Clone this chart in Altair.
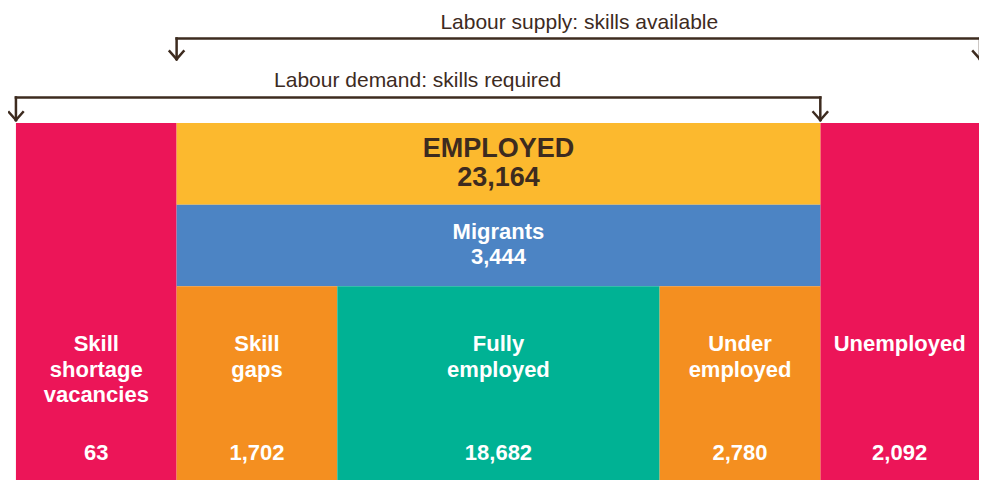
import altair as alt
import pandas as pd

# ---- data ----
categories = ["Skill shortage vacancies", "Skill gaps", "Fully employed", "Under employed", "Unemployed"]
label_lines = [["Skill", "shortage", "vacancies"], ["Skill", "gaps"], ["Fully", "employed"],
               ["Under", "employed"], ["Unemployed"]]
values = [63, 1702, 18682, 2780, 2092]
employed_label = "EMPLOYED"
employed_total = 23164
migrants_label = "Migrants"
migrants_total = 3444
supply_title = "Labour supply: skills available"
demand_title = "Labour demand: skills required"

# ---- layout (diagram units = reference pixels) ----
col_edges = [16, 178, 340, 665, 827, 1000]
row_edges = [125, 208, 291, 488]
RED, YELLOW, BLUE, ORANGE, TEAL = "#EC1558", "#FCB92E", "#4C84C4", "#F48F20", "#00B294"
BROWN = "#3D2B1F"
FONT = "Liberation Sans"

rects = []
rects.append(dict(x=col_edges[0], x2=col_edges[1], y=row_edges[0], y2=row_edges[3], c=RED))
rects.append(dict(x=col_edges[4], x2=col_edges[5], y=row_edges[0], y2=row_edges[3], c=RED))
rects.append(dict(x=col_edges[1], x2=col_edges[4], y=row_edges[0], y2=row_edges[1], c=YELLOW))
rects.append(dict(x=col_edges[1], x2=col_edges[4], y=row_edges[1], y2=row_edges[2], c=BLUE))
inner_colors = [ORANGE, TEAL, ORANGE]
for i, c in enumerate(inner_colors):
    rects.append(dict(x=col_edges[1 + i], x2=col_edges[2 + i], y=row_edges[2], y2=row_edges[3], c=c))
rect_df = pd.DataFrame(rects)

centers = [97, 259, 502.5, 746, 907]
line_base = 357
line_step = 26
value_base = 468
lab_rows = []
for i, lines in enumerate(label_lines):
    for j, ln in enumerate(lines):
        lab_rows.append(dict(x=centers[i], y=line_base + j * line_step, t=ln))
lab_df = pd.DataFrame(lab_rows)
val_df = pd.DataFrame(dict(x=centers, y=[value_base] * len(values), v=values, cat=categories))

band_cx = (col_edges[1] + col_edges[4]) / 2
emp_df = pd.DataFrame([dict(x=band_cx, y=160, t=employed_label), dict(x=band_cx, y=189, t=f"{employed_total:,}")])
mig_df = pd.DataFrame([dict(x=band_cx, y=243, t=migrants_label), dict(x=band_cx, y=268, t=f"{migrants_total:,}")])

title_df = pd.DataFrame([dict(x=584, y=29, t=supply_title), dict(x=421, y=88, t=demand_title)])

def bracket(xl, xr, ytop, ybot):
    segs = [
        (xl, ytop, xr, ytop),
        (xl, ytop, xl, ybot), (xr, ytop, xr, ybot),
        (xl - 7, ybot - 8, xl, ybot), (xl + 7, ybot - 8, xl, ybot),
        (xr - 7, ybot - 8, xr, ybot), (xr + 7, ybot - 8, xr, ybot),
    ]
    return [dict(x=a, y=b, x2=c, y2=d) for a, b, c, d in segs]

seg_df = pd.DataFrame(bracket(178, 988, 39, 60) + bracket(16, 827, 99, 122))

xs = alt.Scale(domain=[8, 987])
ys = alt.Scale(domain=[8, 488], reverse=True)

def X(f="x"):
    return alt.X(f"{f}:Q", scale=xs, axis=None)

def Y(f="y"):
    return alt.Y(f"{f}:Q", scale=ys, axis=None)

rect_layer = alt.Chart(rect_df).mark_rect(clip=True).encode(
    x=X(), x2="x2:Q", y=Y(), y2="y2:Q", color=alt.Color("c:N", scale=None)
)
seg_layer = alt.Chart(seg_df).mark_rule(stroke=BROWN, strokeWidth=2.5, strokeCap="square", clip=True).encode(
    x=X(), x2="x2:Q", y=Y(), y2="y2:Q"
)
lab_layer = alt.Chart(lab_df).mark_text(font=FONT, fontWeight="bold", fontSize=22, color="white",
                                        align="center", baseline="alphabetic").encode(
    x=X(), y=Y(), text="t:N"
)
val_layer = alt.Chart(val_df).mark_text(font=FONT, fontWeight="bold", fontSize=22, color="white",
                                        align="center", baseline="alphabetic").encode(
    x=X(), y=Y(), text=alt.Text("v:Q", format=",")
)
emp_layer = alt.Chart(emp_df).mark_text(font=FONT, fontWeight="bold", fontSize=27, color=BROWN,
                                        align="center", baseline="alphabetic").encode(
    x=X(), y=Y(), text="t:N"
)
mig_layer = alt.Chart(mig_df).mark_text(font=FONT, fontWeight="bold", fontSize=22, color="white",
                                        align="center", baseline="alphabetic").encode(
    x=X(), y=Y(), text="t:N"
)
title_layer = alt.Chart(title_df).mark_text(font=FONT, fontSize=21, color=BROWN,
                                            align="center", baseline="alphabetic").encode(
    x=X(), y=Y(), text="t:N"
)

chart = alt.layer(rect_layer, seg_layer, lab_layer, val_layer, emp_layer, mig_layer, title_layer).properties(
    width=971, height=472, padding=0, autosize=alt.AutoSizeParams(type="none"),
    background="white"
).configure_view(stroke=None)

chart.save("out.html", embed_options={"renderer": "svg", "actions": False})
